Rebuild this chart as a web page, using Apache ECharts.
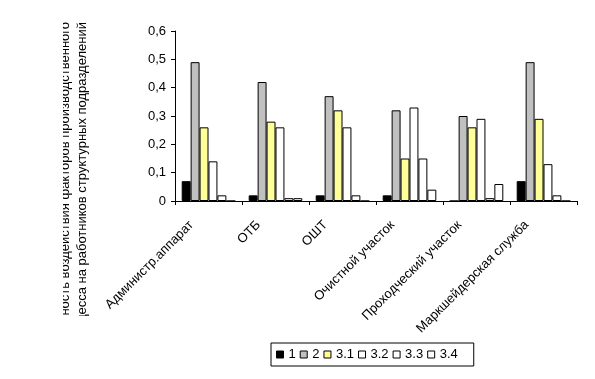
<!DOCTYPE html>
<html>
<head>
<meta charset="utf-8">
<script src="https://cdn.jsdelivr.net/npm/echarts@6/dist/echarts.min.js"></script>
<style>html,body{margin:0;padding:0;background:#fff;}#c{width:595px;height:379px;}</style>
</head>
<body>
<div id="c"></div>
<script>
const categories = ["Администр.аппарат", "ОТБ", "ОШТ", "Очистной участок", "Проходческий участок", "Маркшейдерская служба"];
const seriesNames = ["1", "2", "3.1", "3.2", "3.3", "3.4"];
const s1  = [0.07, 0.02, 0.02, 0.02, 0.00, 0.07];
const s2  = [0.49, 0.42, 0.37, 0.32, 0.30, 0.49];
const s31 = [0.26, 0.28, 0.32, 0.15, 0.26, 0.29];
const s32 = [0.14, 0.26, 0.26, 0.33, 0.29, 0.13];
const s33 = [0.02, 0.01, 0.02, 0.15, 0.01, 0.02];
const s34 = [0.00, 0.01, 0.00, 0.04, 0.06, 0.00];
const yTicks = ["0", "0,1", "0,2", "0,3", "0,4", "0,5", "0,6"];
const titleLine1 = "Средняя интенсивность воздействия факторов производственного";
const titleLine2 = "процесса на работников структурных подразделений";

const values = [s1, s2, s31, s32, s33, s34];
const colors = ["#000000", "#c0c0c0", "#ffff99", "#ffffff", "#ffffff", "#ffffff"];
const font = "Liberation Sans, Arial, sans-serif";

const chart = echarts.init(document.getElementById('c'), null, {renderer: 'canvas'});
chart.setOption({
  animation: false,
  backgroundColor: '#ffffff',
  textStyle: {fontFamily: font},
  grid: {left: 175, right: 18, top: 31, bottom: 178, containLabel: false},
  legend: {
    left: 271, top: 343,
    orient: 'horizontal',
    itemWidth: 7, itemHeight: 7, itemGap: 4,
    padding: [5, 16, 5, 5],
    borderColor: '#000', borderWidth: 1,
    textStyle: {fontSize: 13, color: '#000', fontFamily: font},
    icon: 'rect',
    data: seriesNames.map(n => ({name: n, itemStyle: {borderColor: '#000', borderWidth: 1}}))
  },
  xAxis: {
    type: 'category',
    data: categories,
    axisLine: {lineStyle: {color: '#000', width: 1}},
    axisTick: {show: true, length: 4, lineStyle: {color: '#000'}},
    axisLabel: {
      rotate: 45, margin: 5, padding: [0, 24, 0, 0],
      fontSize: 13, color: '#000', fontFamily: font, interval: 0
    }
  },
  yAxis: {
    type: 'value', min: 0, max: 0.6, interval: 0.1,
    axisLine: {show: true, lineStyle: {color: '#000', width: 1}},
    axisTick: {show: true, length: 4, lineStyle: {color: '#000'}},
    splitLine: {show: false},
    axisLabel: {
      fontSize: 13, color: '#000', fontFamily: font, margin: 9,
      formatter: (v) => yTicks[Math.round(v * 10)]
    }
  },
  series: seriesNames.map((n, i) => ({
    name: n, type: 'bar',
    data: values[i],
    barGap: '0%', barCategoryGap: '20%',
    itemStyle: {color: colors[i], borderColor: '#000', borderWidth: 1}
  })),
  graphic: [
    {type: 'text', x: 65, y: 22, rotation: Math.PI / 2,
     style: {text: titleLine1, fontSize: 13, fontFamily: font, fill: '#000', align: 'right', verticalAlign: 'middle'}},
    {type: 'text', x: 82, y: 22, rotation: Math.PI / 2,
     style: {text: titleLine2, fontSize: 13, fontFamily: font, fill: '#000', align: 'right', verticalAlign: 'middle'}},
    {type: 'rect', shape: {x: 0, y: 0, width: 63, height: 379}, style: {fill: '#fff'}},
    {type: 'rect', shape: {x: 0, y: 316, width: 100, height: 63}, style: {fill: '#fff'}}
  ]
});
</script>
</body>
</html>
